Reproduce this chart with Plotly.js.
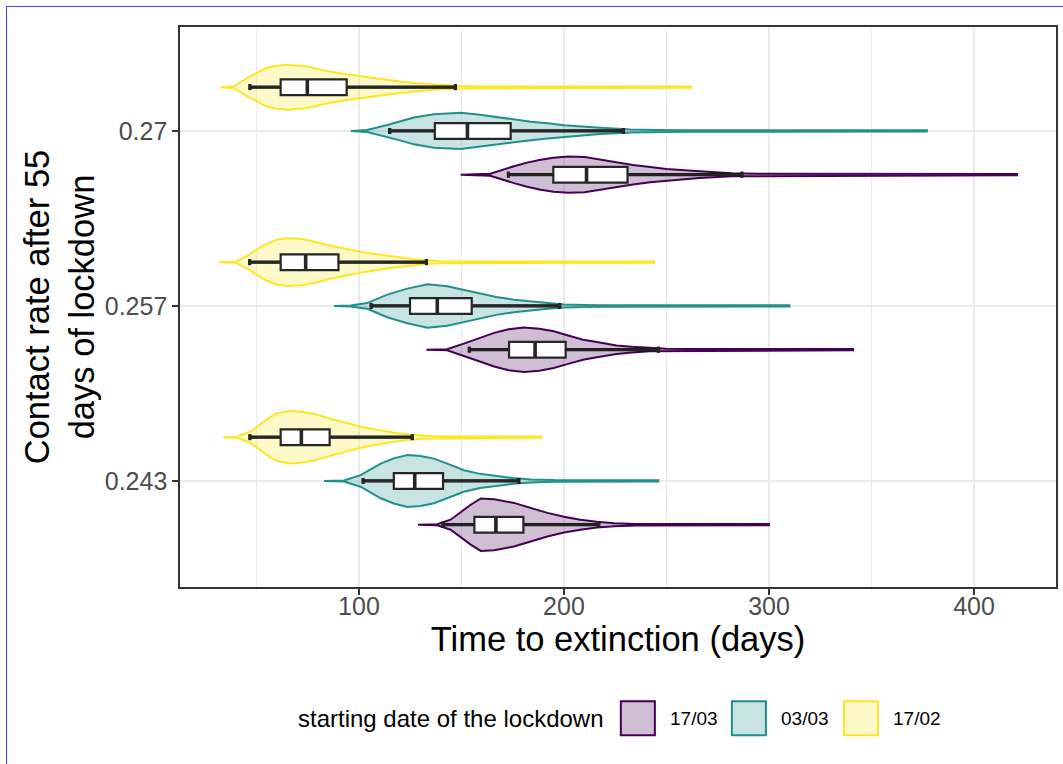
<!DOCTYPE html>
<html>
<head>
<meta charset="utf-8">
<script src="https://cdn.plot.ly/plotly-3.0.1.min.js"></script>
<style>
  html, body { margin: 0; padding: 0; background: #fff; overflow: hidden; }
  #chart { width: 1063px; height: 764px; position: absolute; left: 0; top: 0; }
  #frame { position: absolute; left: 6px; top: 6px; width: 2000px; height: 2000px;
           border-left: 1px solid #4040ff; border-top: 1.5px solid #4040ff; pointer-events: none; }
</style>
</head>
<body>
<div id="chart"></div>
<div id="frame"></div>
<script>
// ---------- categories ----------
const rates = ['0.243', '0.257', '0.27'];
const dates = ['17/03', '03/03', '17/02'];
const lineColors = ['#440154', '#21908C', '#FDE725'];
const fillColors = ['rgba(68,1,84,0.25)', 'rgba(33,144,140,0.25)', 'rgba(253,231,37,0.25)'];

// ---------- violin profiles (time in days, relative density) ----------
// 17/03
const t_1703_0243 = [128.8, 138.2, 144.7, 150, 154.5, 159.4, 166, 175.6, 184, 191.9, 200, 208, 216, 224.4, 235, 300];
const d_1703_0243 = [0, 0.02, 0.19, 0.50, 0.76, 1.0, 0.97, 0.83, 0.63, 0.45, 0.30, 0.19, 0.11, 0.06, 0.03, 0.022];
const t_1703_0257 = [132.9, 143, 152.9, 160, 165.9, 173, 180.5, 188, 195, 201.6, 209.3, 216, 225.6, 233, 241.8, 250, 260, 341];
const d_1703_0257 = [0, 0.02, 0.28, 0.48, 0.64, 0.78, 0.85, 0.80, 0.70, 0.55, 0.38, 0.29, 0.16, 0.11, 0.06, 0.04, 0.03, 0.022];
const t_1703_027  = [149.6, 164, 175.6, 182, 188.6, 195, 202, 210, 217.4, 225, 233.7, 242, 250, 266, 282, 295, 421];
const d_1703_027  = [0, 0.04, 0.32, 0.46, 0.57, 0.65, 0.69, 0.67, 0.58, 0.48, 0.37, 0.29, 0.22, 0.13, 0.06, 0.035, 0.022];
// 03/03
const t_0303_0243 = [83, 92.7, 100.8, 110.6, 117, 123.6, 130, 136.6, 144, 151.2, 159, 167.5, 175, 183.8, 195, 246];
const d_0303_0243 = [0, 0.02, 0.22, 0.66, 0.86, 0.99, 0.95, 0.85, 0.63, 0.41, 0.27, 0.18, 0.11, 0.06, 0.035, 0.022];
const t_0303_0257 = [87.8, 96, 104, 113.8, 123.6, 133.4, 143, 151, 159, 167, 175.6, 183.8, 191.9, 200, 210, 217, 310];
const d_0303_0257 = [0, 0.02, 0.11, 0.43, 0.66, 0.83, 0.75, 0.61, 0.47, 0.34, 0.24, 0.17, 0.11, 0.06, 0.04, 0.03, 0.022];
const t_0303_027  = [96, 104, 113.8, 120, 126.8, 136.6, 149.6, 158, 167.5, 175, 183.8, 192, 200, 216, 232.5, 245, 258, 377];
const d_0303_027  = [0, 0.04, 0.23, 0.36, 0.51, 0.64, 0.69, 0.63, 0.53, 0.44, 0.35, 0.29, 0.22, 0.13, 0.06, 0.04, 0.03, 0.022];
// 17/02
const t_1702_0243 = [33.8, 40.7, 47.2, 55.3, 60, 66.7, 72, 78, 86, 94.3, 102, 110.6, 117, 123.6, 130, 135, 145, 189];
const d_1702_0243 = [0, 0.02, 0.22, 0.69, 0.91, 1.0, 0.97, 0.89, 0.70, 0.53, 0.38, 0.26, 0.17, 0.11, 0.06, 0.04, 0.03, 0.022];
const t_1702_0257 = [31.7, 39.9, 45.5, 53.7, 60, 65, 72, 78, 86, 94.3, 102, 110.6, 118, 126.8, 133, 139.8, 150, 244];
const d_1702_0257 = [0, 0.02, 0.24, 0.66, 0.86, 0.91, 0.88, 0.79, 0.63, 0.50, 0.38, 0.28, 0.19, 0.11, 0.07, 0.04, 0.03, 0.022];
const t_1702_027  = [32.5, 39, 45.5, 55, 60, 65, 74, 83, 92, 100, 110, 119, 128, 137, 148, 160, 262];
const d_1702_027  = [0, 0.04, 0.35, 0.74, 0.82, 0.86, 0.80, 0.64, 0.51, 0.42, 0.32, 0.23, 0.15, 0.10, 0.05, 0.03, 0.022];

// ---------- box statistics (per rate: 0.243, 0.257, 0.27) ----------
const lower_1703 = [141, 153.8, 172.9];
const q1_1703    = [156.3, 173.2, 194.8];
const med_1703   = [166.8, 185.9, 211];
const q3_1703    = [180.2, 200.8, 231];
const upper_1703 = [217, 246, 286.8];

const lower_0303 = [102, 105.9, 115];
const q1_0303    = [117, 124.9, 137];
const med_0303   = [127.2, 138.2, 152.9];
const q3_0303    = [141, 155, 174];
const upper_0303 = [178, 197.9, 229];

const lower_1702 = [46.8, 46.7, 46.8];
const q1_1702    = [61.8, 61.8, 61.8];
const med_1702   = [71.9, 74, 74.8];
const q3_1702    = [85.7, 90, 94];
const upper_1702 = [126, 132.9, 147];

// ---------- build ----------
const profiles = [
  [[t_1703_0243, d_1703_0243], [t_1703_0257, d_1703_0257], [t_1703_027, d_1703_027]],
  [[t_0303_0243, d_0303_0243], [t_0303_0257, d_0303_0257], [t_0303_027, d_0303_027]],
  [[t_1702_0243, d_1702_0243], [t_1702_0257, d_1702_0257], [t_1702_027, d_1702_027]]
];
const boxStats = [
  [lower_1703, q1_1703, med_1703, q3_1703, upper_1703],
  [lower_0303, q1_0303, med_0303, q3_0303, upper_0303],
  [lower_1702, q1_1702, med_1702, q3_1702, upper_1702]
];
const dodge = [-0.25, 0, 0.25];
const halfW = 0.15;
const boxW = 0.09;
const capH = 0.017;

const traces = [];
// violins (base subplot)
dates.forEach((dt, gi) => {
  rates.forEach((r, ri) => {
    const [t, d] = profiles[gi][ri];
    const c = ri + 1 + dodge[gi];
    const xs = t.concat(t.slice().reverse()).concat([t[0]]);
    const up = d.map(v => c + v * halfW);
    const lo = d.map(v => c - v * halfW).reverse();
    const ys = up.concat(lo).concat([c + d[0] * halfW]);
    traces.push({
      type: 'scatter', mode: 'lines', x: xs, y: ys,
      fill: 'toself', fillcolor: fillColors[gi],
      line: { color: lineColors[gi], width: 2, shape: 'linear' },
      showlegend: false, hoverinfo: 'skip', name: dt
    });
  });
});
// whiskers with caps (base subplot, above violins)
dates.forEach((dt, gi) => {
  const s = boxStats[gi];
  const wx = [], wy = [];
  rates.forEach((r, ri) => {
    const c = ri + 1 + dodge[gi];
    wx.push(s[0][ri], s[4][ri], null);
    wy.push(c, c, null);
    wx.push(s[0][ri], s[0][ri], null, s[4][ri], s[4][ri], null);
    wy.push(c - capH, c + capH, null, c - capH, c + capH, null);
  });
  traces.push({
    type: 'scatter', mode: 'lines', x: wx, y: wy,
    line: { color: '#111111', width: 3.2 }, showlegend: false, hoverinfo: 'skip', name: dt
  });
});
// boxes (overlay subplot, drawn above violins)
dates.forEach((dt, gi) => {
  const s = boxStats[gi];
  traces.push({
    type: 'box', orientation: 'h', xaxis: 'x2', yaxis: 'y2',
    y: rates.map((r, ri) => ri + 1 + dodge[gi]),
    lowerfence: s[0], q1: s[1], median: s[2], q3: s[3], upperfence: s[4],
    width: boxW, whiskerwidth: 0.36, boxpoints: false,
    fillcolor: '#FFFFFF', line: { color: '#262626', width: 2.2 },
    showlegend: false, name: dt
  });
});
// thick medians (overlay subplot)
dates.forEach((dt, gi) => {
  const s = boxStats[gi];
  const mx = [], my = [];
  rates.forEach((r, ri) => {
    const c = ri + 1 + dodge[gi];
    mx.push(s[2][ri], s[2][ri], null);
    my.push(c - boxW / 2, c + boxW / 2, null);
  });
  traces.push({
    type: 'scatter', mode: 'lines', xaxis: 'x2', yaxis: 'y2', x: mx, y: my,
    line: { color: '#262626', width: 3.6 }, showlegend: false, hoverinfo: 'skip', name: dt
  });
});

// ---------- manual legend (ggplot-style keys) ----------
const PL = 180.3, PR = 1056, PT = 26.7, PB = 586.7;
const px2x = p => (p - PL) / (PR - PL);
const px2y = p => (PB - p) / (PB - PT);
const keyLeft = [620, 731, 843];
const shapes = [];
const annotations = [];
dates.forEach((dt, gi) => {
  shapes.push({
    type: 'rect', xref: 'paper', yref: 'paper',
    x0: px2x(keyLeft[gi] + 1), x1: px2x(keyLeft[gi] + 35),
    y0: px2y(701), y1: px2y(735),
    fillcolor: fillColors[gi], line: { color: lineColors[gi], width: 2 }
  });
  annotations.push({
    xref: 'paper', yref: 'paper', x: px2x(keyLeft[gi] + 48), y: px2y(718),
    xanchor: 'left', yanchor: 'middle', showarrow: false, text: dt,
    font: { size: 19, color: '#000000' }
  });
});
annotations.push({
  xref: 'paper', yref: 'paper', x: px2x(606), y: px2y(718),
  xanchor: 'right', yanchor: 'middle', showarrow: false,
  text: 'starting date of the lockdown', font: { size: 24, color: '#000000' }
});

const xRange = [12.7, 440];
const yRange = [0.394, 3.594];
const layout = {
  width: 1063, height: 764,
  margin: { l: PL, r: 1063 - PR, t: PT, b: 764 - PB, pad: 0 },
  paper_bgcolor: '#FFFFFF', plot_bgcolor: '#FFFFFF',
  font: { family: 'Liberation Sans, Arial, sans-serif', color: '#000000' },
  showlegend: false,
  xaxis: {
    range: xRange, tickvals: [100, 200, 300, 400],
    ticks: 'outside', ticklen: 6, tickwidth: 1.7, tickcolor: '#333333',
    tickfont: { size: 25, color: '#4D4D4D' }, ticklabelstandoff: -10,
    showgrid: true, gridcolor: '#EBEBEB', gridwidth: 1.8,
    minor: { tickvals: [50, 150, 250, 350], showgrid: true, gridcolor: '#EBEBEB', gridwidth: 1, ticks: '' },
    zeroline: false, showline: true, mirror: true, linecolor: '#333333', linewidth: 1.7,
    title: { text: 'Time to extinction (days)', font: { size: 34.5, color: '#000000' }, standoff: 2 }
  },
  yaxis: {
    range: yRange, tickvals: [1, 2, 3], ticktext: rates,
    ticks: 'outside', ticklen: 6, tickwidth: 1.7, tickcolor: '#333333',
    tickfont: { size: 25, color: '#4D4D4D' },
    showgrid: true, gridcolor: '#EBEBEB', gridwidth: 1.8,
    zeroline: false, showline: true, mirror: true, linecolor: '#333333', linewidth: 1.7,
    title: { text: 'Contact rate after 55<br>days of lockdown', font: { size: 34.5, color: '#000000' }, standoff: 0 }
  },
  xaxis2: { range: xRange, overlaying: 'x', anchor: 'y2', visible: false },
  yaxis2: { range: yRange, overlaying: 'y', anchor: 'x2', visible: false },
  shapes: shapes,
  annotations: annotations
};

Plotly.newPlot('chart', traces, layout, { displayModeBar: false, staticPlot: true });
</script>
</body>
</html>
